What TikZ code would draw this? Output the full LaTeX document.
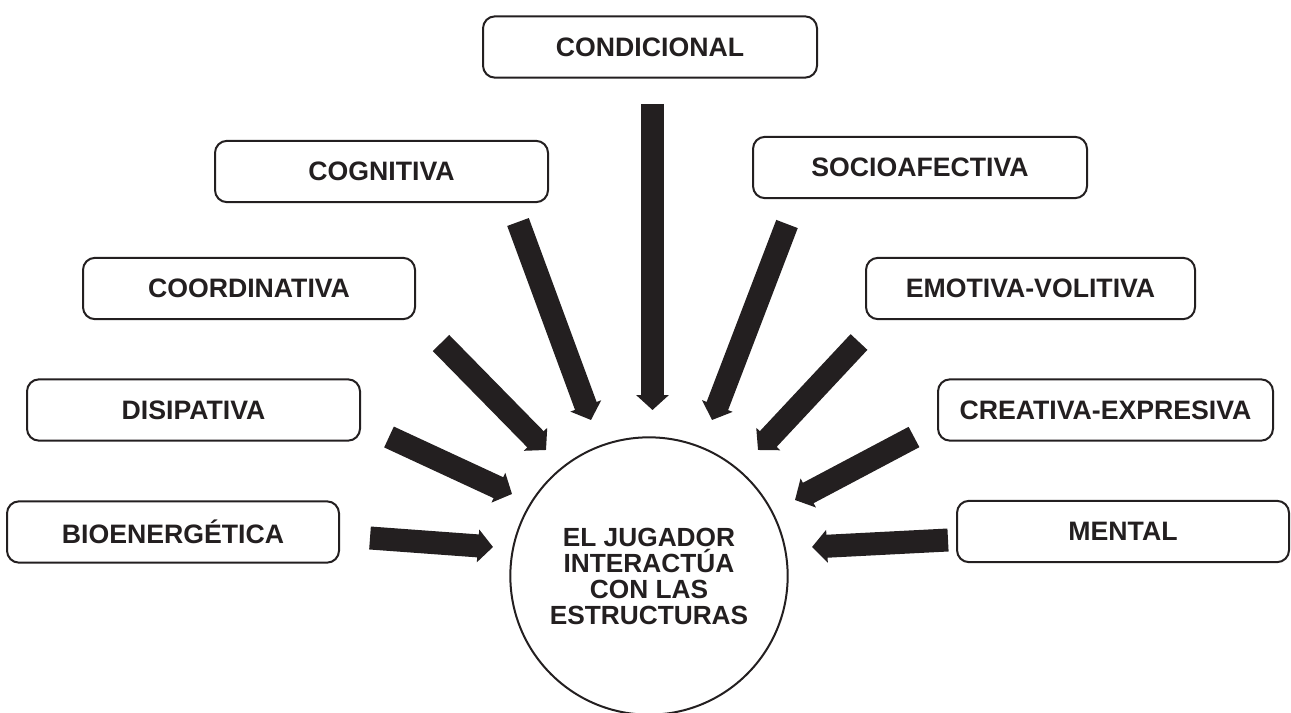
\documentclass[tikz,border=0pt]{standalone}
\usepackage{fontspec}
\setmainfont{Liberation Sans}
\usetikzlibrary{arrows.meta}
\definecolor{ink}{HTML}{231F20}
\tikzset{
  box/.style={draw=ink, line width=1.5pt, rounded corners=9pt, fill=white,
    minimum height=46pt, inner sep=0pt, font=\bfseries\fontsize{20}{20}\selectfont, text=ink},
  hub/.style={draw=ink, line width=1.5pt, circle, minimum size=208pt, inner sep=0pt,
    align=center, font=\bfseries\fontsize{19.7}{19.5}\selectfont, text=ink},
  fat/.style={draw=ink, line width=17.25pt, -{Triangle[width=24pt, length=11.25pt]}}
}
\begin{document}
\begin{tikzpicture}[x=0.75pt, y=-0.75pt]
\useasboundingbox (0,0) rectangle (1291,713);
% boxes
\node[box, minimum width=250.5pt] (cond) at (650,47) {CONDICIONAL};
\node[box, minimum width=249.75pt] (cogn) at (381.5,171.5) {COGNITIVA};
\node[box, minimum width=250.5pt] (soci) at (920,167.5) {SOCIOAFECTIVA};
\node[box, minimum width=249pt] (coor) at (249,288.5) {COORDINATIVA};
\node[box, minimum width=246.75pt] (emot) at (1030.5,288.5) {EMOTIVA-VOLITIVA};
\node[box, minimum width=249.75pt] (disi) at (193.5,410) {DISIPATIVA};
\node[box, minimum width=251.25pt] (crea) at (1105.5,410) {CREATIVA-EXPRESIVA};
\node[box, minimum width=249pt] (bioe) at (173,532) {BIOENERG\'ETICA};
\node[box, minimum width=249pt] (ment) at (1123,531.5) {MENTAL};
% hub
\node[hub] (hub) at (649,576) {EL JUGADOR\\INTERACT\'UA\\CON LAS\\ESTRUCTURAS};
% arrow ends
\coordinate (t1) at (652.5,104);  \coordinate (h1) at (652.5,410);
\coordinate (t2) at (370,538);    \coordinate (h2) at (493,547);
\coordinate (t3) at (948,540);    \coordinate (h3) at (812,547);
\coordinate (t4) at (389,437);    \coordinate (h4) at (512,494);
\coordinate (t5) at (914,437);    \coordinate (h5) at (795,500);
\coordinate (t6) at (441,343);    \coordinate (h6) at (546,450);
\coordinate (t7) at (859,342);    \coordinate (h7) at (758,450);
\coordinate (t8) at (518,222);    \coordinate (h8) at (591,420);
\coordinate (t9) at (787,224);    \coordinate (h9) at (712,420);
\foreach \i in {1,...,9} { \draw[fat] (t\i) -- (h\i); }
\end{tikzpicture}
\end{document}
